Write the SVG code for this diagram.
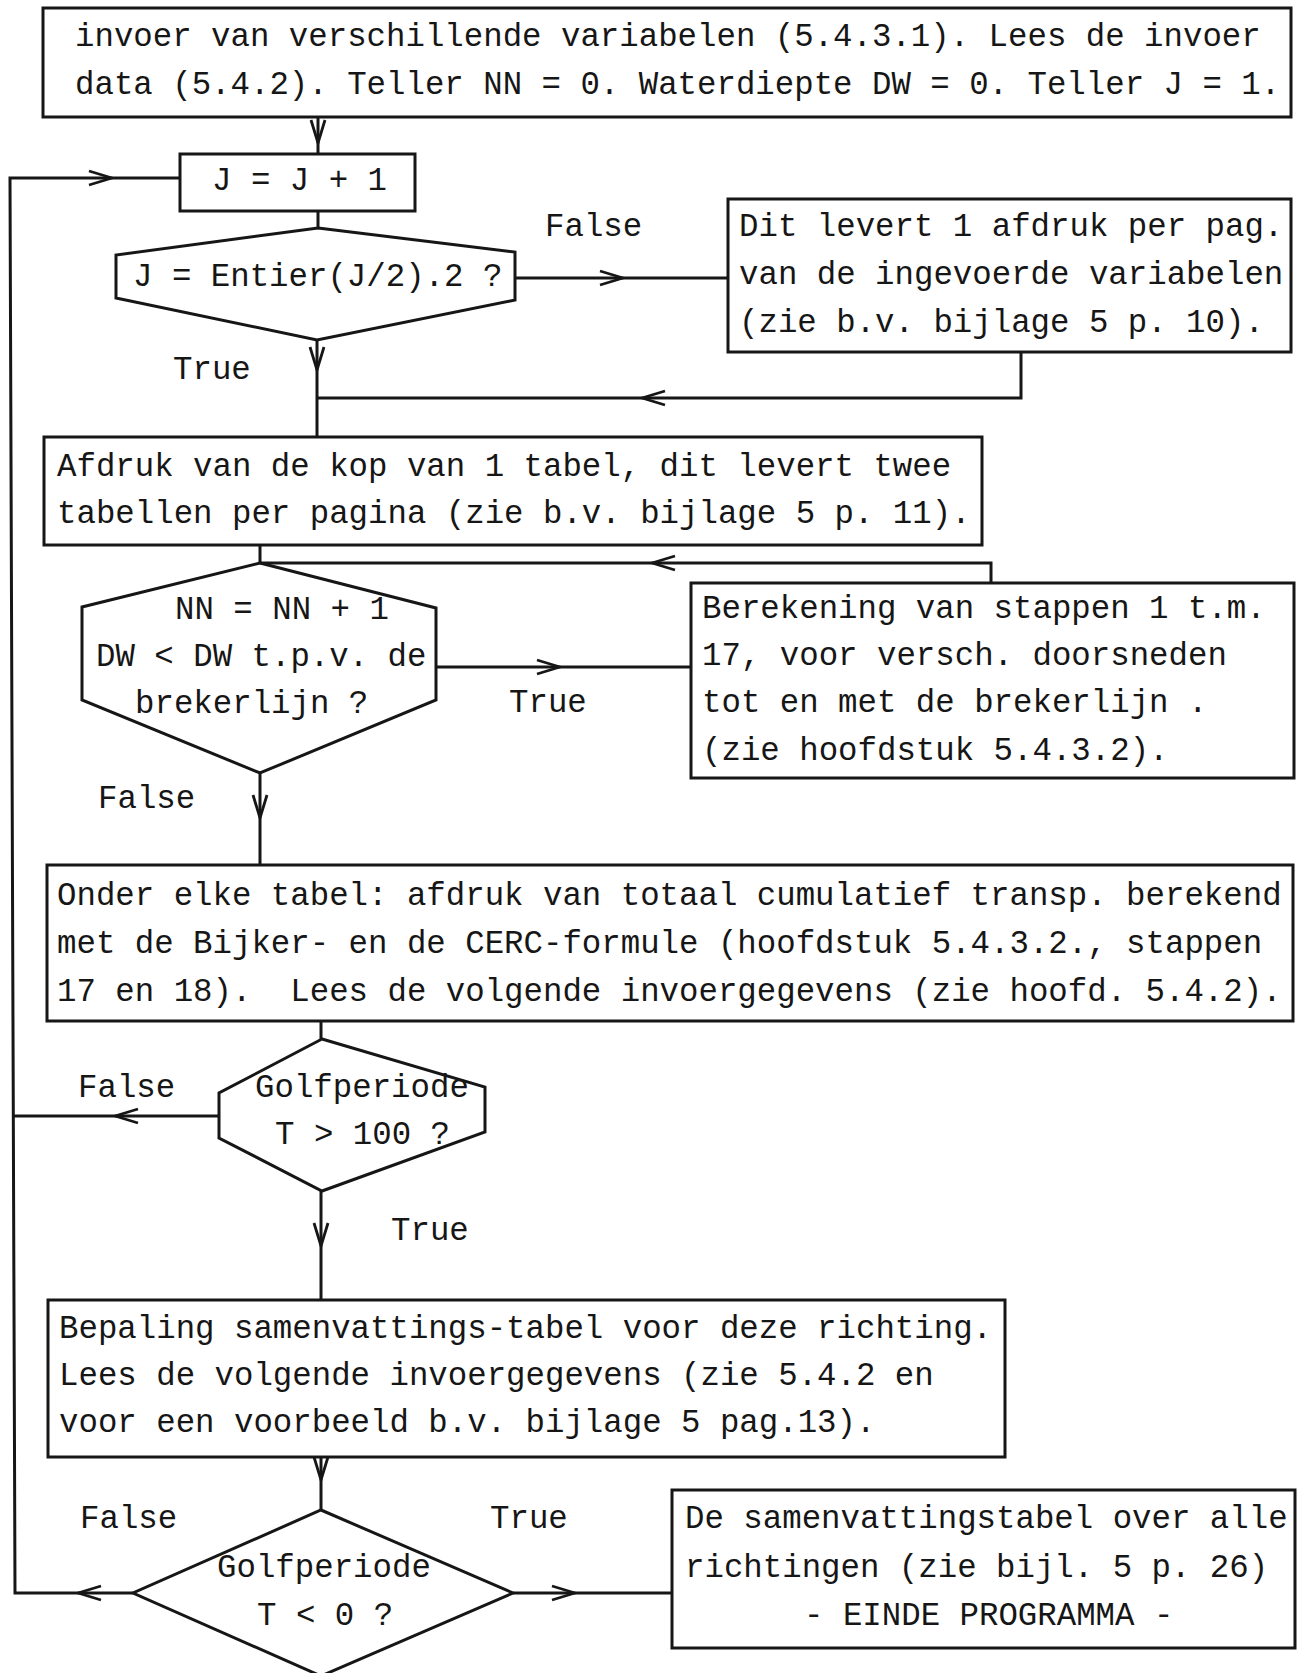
<svg xmlns="http://www.w3.org/2000/svg" width="1307" height="1673" viewBox="0 0 1307 1673">
<style>
.box{fill:none;stroke:#161616;stroke-width:3}
.ln{fill:none;stroke:#161616;stroke-width:3}
.ah{marker-end:url(#ah)}
.t{font-family:"Liberation Mono","Courier New",monospace;font-size:32.4px;fill:#161616;white-space:pre}
</style>
<defs>
<marker id="ah" viewBox="-26 -9 28 18" refX="0" refY="0" markerWidth="28" markerHeight="18" markerUnits="userSpaceOnUse" orient="auto">
<path d="M-23,-7 L0,0 L-23,7" fill="none" stroke="#161616" stroke-width="2.8" stroke-linejoin="miter"/>
</marker>
</defs>
<rect x="0" y="0" width="1307" height="1673" fill="#ffffff"/>

<g id="connectors">
<path class="ln ah" d="M318,117 L318,143"/>
<path class="ln" d="M318,143 L318,154"/>
<path class="ln" d="M318,211 L318,228"/>
<path class="ln ah" d="M515,278 L623,278"/>
<path class="ln" d="M623,278 L728,278"/>
<path class="ln ah" d="M317,340 L317,370"/>
<path class="ln" d="M317,370 L317,437"/>
<path class="ln ah" d="M1021,352 L1021,398 L642,398"/>
<path class="ln" d="M642,398 L317,398"/>
<path class="ln" d="M260,545 L260,563"/>
<path class="ln ah" d="M991,583 L991,563 L652,563"/>
<path class="ln" d="M652,563 L260,563"/>
<path class="ln ah" d="M436,667 L560,667"/>
<path class="ln" d="M560,667 L691,667"/>
<path class="ln ah" d="M260,773 L260,818"/>
<path class="ln" d="M260,818 L260,865"/>
<path class="ln" d="M321,1021 L321,1039"/>
<path class="ln ah" d="M219,1116 L115,1116"/>
<path class="ln" d="M115,1116 L13,1116"/>
<path class="ln ah" d="M321,1191 L321,1246"/>
<path class="ln" d="M321,1246 L321,1300"/>
<path class="ln ah" d="M321,1457 L321,1480"/>
<path class="ln" d="M321,1480 L321,1510"/>
<path class="ln ah" d="M133,1593 L78,1593"/>
<path class="ln ah" d="M78,1593 L15,1593 L10,178 L112,178"/>
<path class="ln" d="M112,178 L180,178"/>
<path class="ln ah" d="M513,1593 L575,1593"/>
<path class="ln" d="M575,1593 L672,1593"/>
</g>

<g id="n-start">
<rect class="box" x="43" y="8" width="1248" height="109"/>
<text class="t" xml:space="preserve" x="75" y="46">invoer van verschillende variabelen (5.4.3.1). Lees de invoer</text>
<text class="t" xml:space="preserve" x="75" y="94">data (5.4.2). Teller NN = 0. Waterdiepte DW = 0. Teller J = 1.</text>
</g>

<g id="n-jplus">
<rect class="box" x="180" y="154" width="235" height="57"/>
<text class="t" xml:space="preserve" x="212" y="190">J = J + 1</text>
</g>

<g id="n-entier">
<polygon class="box" points="318,228 515,252 515,300 317,340 116,298 116,255"/>
<text class="t" xml:space="preserve" x="133" y="286">J = Entier(J/2).2 ?</text>
</g>

<g id="n-afdruk-var">
<rect class="box" x="728" y="199" width="563" height="153"/>
<text class="t" xml:space="preserve" x="739" y="236">Dit levert 1 afdruk per pag.</text>
<text class="t" xml:space="preserve" x="739" y="284">van de ingevoerde variabelen</text>
<text class="t" xml:space="preserve" x="739" y="332">(zie b.v. bijlage 5 p. 10).</text>
</g>

<g id="n-kop">
<rect class="box" x="44" y="437" width="938" height="108"/>
<text class="t" xml:space="preserve" x="57" y="476">Afdruk van de kop van 1 tabel, dit levert twee</text>
<text class="t" xml:space="preserve" x="57" y="523">tabellen per pagina (zie b.v. bijlage 5 p. 11).</text>
</g>

<g id="n-nn">
<polygon class="box" points="260,563 436,608 436,700 260,773 82,700 82,607"/>
<text class="t" xml:space="preserve" x="175" y="619">NN = NN + 1</text>
<text class="t" xml:space="preserve" x="96" y="666">DW &lt; DW t.p.v. de</text>
<text class="t" xml:space="preserve" x="135" y="713">brekerlijn ?</text>
</g>

<g id="n-berekening">
<rect class="box" x="691" y="583" width="603" height="195"/>
<text class="t" xml:space="preserve" x="702" y="618">Berekening van stappen 1 t.m.</text>
<text class="t" xml:space="preserve" x="702" y="665">17, voor versch. doorsneden</text>
<text class="t" xml:space="preserve" x="702" y="712">tot en met de brekerlijn .</text>
<text class="t" xml:space="preserve" x="702" y="760">(zie hoofdstuk 5.4.3.2).</text>
</g>

<g id="n-onder">
<rect class="box" x="47" y="865" width="1246" height="156"/>
<text class="t" xml:space="preserve" x="57" y="905">Onder elke tabel: afdruk van totaal cumulatief transp. berekend</text>
<text class="t" xml:space="preserve" x="57" y="953">met de Bijker- en de CERC-formule (hoofdstuk 5.4.3.2., stappen</text>
<text class="t" xml:space="preserve" x="57" y="1001">17 en 18).  Lees de volgende invoergegevens (zie hoofd. 5.4.2).</text>
</g>

<g id="n-t100">
<polygon class="box" points="322,1039 485,1087 485,1132 322,1191 219,1138 219,1093"/>
<text class="t" xml:space="preserve" x="255" y="1097">Golfperiode</text>
<text class="t" xml:space="preserve" x="275" y="1144">T &gt; 100 ?</text>
</g>

<g id="n-samenvatting">
<rect class="box" x="48" y="1300" width="957" height="157"/>
<text class="t" xml:space="preserve" x="59" y="1338">Bepaling samenvattings-tabel voor deze richting.</text>
<text class="t" xml:space="preserve" x="59" y="1385">Lees de volgende invoergegevens (zie 5.4.2 en</text>
<text class="t" xml:space="preserve" x="59" y="1432">voor een voorbeeld b.v. bijlage 5 pag.13).</text>
</g>

<g id="n-t0">
<polygon class="box" points="321,1510 513,1593 321,1676 133,1593"/>
<text class="t" xml:space="preserve" x="217" y="1577">Golfperiode</text>
<text class="t" xml:space="preserve" x="257" y="1625">T &lt; 0 ?</text>
</g>

<g id="n-einde">
<rect class="box" x="672" y="1490" width="623" height="158"/>
<text class="t" xml:space="preserve" x="685" y="1528">De samenvattingstabel over alle</text>
<text class="t" xml:space="preserve" x="685" y="1577">richtingen (zie bijl. 5 p. 26)</text>
<text class="t" xml:space="preserve" x="804" y="1625">- EINDE PROGRAMMA -</text>
</g>

<g id="labels">
<text class="t" x="545" y="236">False</text>
<text class="t" x="173" y="379">True</text>
<text class="t" x="509" y="712">True</text>
<text class="t" x="98" y="808">False</text>
<text class="t" x="78" y="1097">False</text>
<text class="t" x="391" y="1240">True</text>
<text class="t" x="80" y="1528">False</text>
<text class="t" x="490" y="1528">True</text>
</g>
</svg>
